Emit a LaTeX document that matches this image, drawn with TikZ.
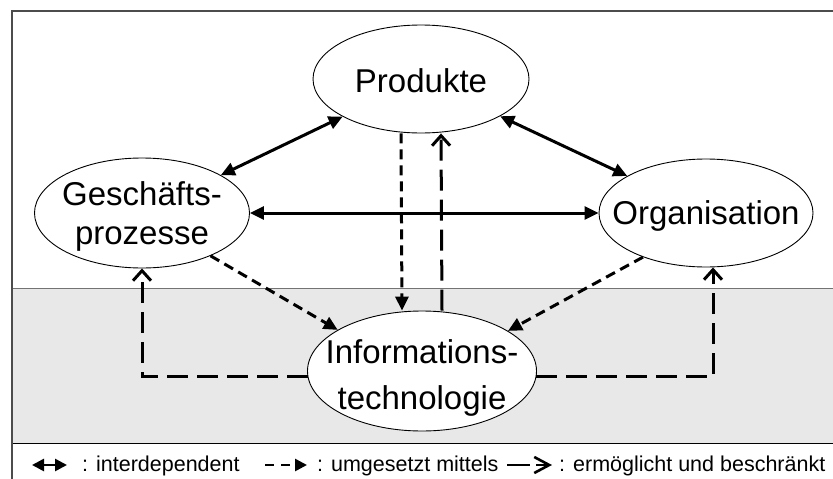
\documentclass[tikz,border=0pt]{standalone}
\usepackage{fontspec}
\setmainfont{Liberation Sans}
\usetikzlibrary{shapes.geometric,arrows.meta}
\definecolor{band}{RGB}{232,232,232}
\begin{document}
\begin{tikzpicture}[x=1pt,y=-1pt,
  topic/.style={ellipse, draw=black, line width=0.9pt, fill=white, inner sep=0pt},
  topictext/.style={align=center, inner sep=0pt, font=\fontsize{33}{39}\selectfont},
  interdep/.style={line width=3pt, {Triangle[length=14pt,width=13pt]}-{Triangle[length=14pt,width=13pt]}},
  realised/.style={line width=3pt, dash pattern=on 10pt off 6pt, -{Triangle[length=14pt,width=13pt]}},
  enables/.style={line width=3pt, dash pattern=on 21pt off 9pt, -{Straight Barb[length=10pt,width=18pt]}},
  legendtext/.style={anchor=base west, inner sep=0pt, font=\fontsize{21.5}{26}\selectfont}
]
\clip (0,0) rectangle (833,479);
\fill[white] (0,0) rectangle (833,479);

% shaded technology layer and frame
\fill[band] (12,288) rectangle (845,443);
\draw[black!55, line width=1pt] (12,288) -- (845,288);
\draw[black, line width=1pt] (12,443) -- (845,443);
\draw[black!70, line width=1.3pt] (845,11) -- (12,11) -- (12,490);

% topics
\node[topic, minimum width=216pt, minimum height=108pt] (prod) at (421,79) {};
\node[topic, minimum width=215pt, minimum height=110pt] (gp) at (142,213) {};
\node[topic, minimum width=214pt, minimum height=108pt] (org) at (706,213) {};
\node[topic, minimum width=229pt, minimum height=120pt] (it) at (422,371) {};

\node[topictext] (prodname) at (421,81) {Produkte};
\node[topictext] (gpname) at (142,216) {Geschäfts-\\prozesse};
\node[topictext] (orgname) at (706,216) {Organisation};
\node[topictext, font=\fontsize{33}{46}\selectfont] (itname) at (422,377.5) {Informations-\\technologie};

% interdependencies
\draw[interdep] (gp) -- (prod);
\draw[interdep] (prod) -- (org);
\draw[interdep] (gp) -- (org);

% realisation via information technology
\draw[realised] ([xshift=-20pt]prod.south) -- ([xshift=-20pt]it.north);
\draw[realised] (gp.-32) -- (it.154);
\draw[realised] (org.-145) -- (it.25);

% information technology enables and constrains
\draw[enables] ([xshift=20pt]it.north) -- ([xshift=20pt]prod.south);
\draw[enables] (it.183) -| (gp.south);
\draw[enables] (it.-3) -| ([xshift=7pt]org.south);

% legend
\coordinate (l1a) at (32,465);
\coordinate (l1b) at (67,465);
\coordinate (l2a) at (265,465);
\coordinate (l2b) at (307,465);
\coordinate (l3a) at (507,465);
\coordinate (l3b) at (552,465);
\draw[interdep, line width=2.6pt, {Triangle[length=12pt,width=12pt]}-{Triangle[length=12pt,width=12pt]}] (l1a) -- (l1b);
\draw[realised, line width=2.6pt, dash pattern=on 9pt off 7pt, -{Triangle[length=12pt,width=12pt]}] (l2a) -- (l2b);
\draw[line width=2.6pt, dash pattern=on 23pt off 6pt, -{Straight Barb[length=15pt,width=16pt]}] (l3a) -- (l3b);
\node[legendtext] (t1) at (82,471) {: interdependent};
\node[legendtext] (t2) at (317,471) {: umgesetzt mittels};
\node[legendtext] (t3) at (559,471) {: ermöglicht und beschränkt};
\end{tikzpicture}
\end{document}
